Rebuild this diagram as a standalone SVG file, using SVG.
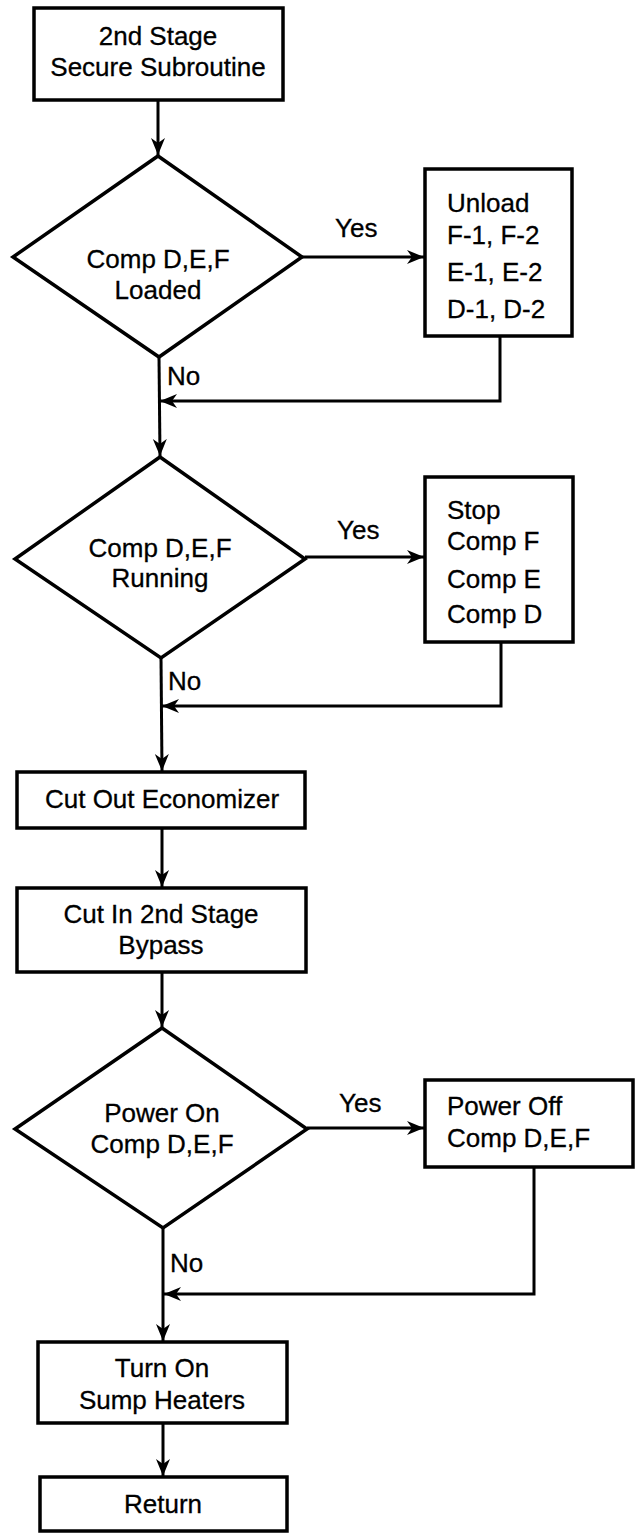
<svg xmlns="http://www.w3.org/2000/svg" width="637" height="1534" viewBox="0 0 637 1534">
<defs>
<marker id="ah" markerUnits="userSpaceOnUse" markerWidth="18" markerHeight="16" refX="17" refY="8" orient="auto">
<path d="M0,1 L17,8 L0,15 L5,8 Z" fill="#000"/>
</marker>
<style>
.box{fill:#fff;stroke:#000;stroke-width:3.5}
.t{font-family:"Liberation Sans",Arial,sans-serif;font-size:26px;fill:#000;stroke:#000;stroke-width:0.3}
.c{text-anchor:middle}
.ln{fill:none;stroke:#000;stroke-width:3}
</style>
</defs>
<rect width="637" height="1534" fill="#fff"/>
<g id="connectors">
<path class="ln" d="M158,100 L158,155" marker-end="url(#ah)"/>
<path class="ln" d="M302,257 L424,257" marker-end="url(#ah)"/>
<path class="ln" d="M500,336 L500,401 L160,401" marker-end="url(#ah)"/>
<path class="ln" d="M159,357 L160,456" marker-end="url(#ah)"/>
<path class="ln" d="M305,557 L424,557" marker-end="url(#ah)"/>
<path class="ln" d="M501,642 L501,706 L162,706" marker-end="url(#ah)"/>
<path class="ln" d="M161,658 L162,771" marker-end="url(#ah)"/>
<path class="ln" d="M162,828 L162,887" marker-end="url(#ah)"/>
<path class="ln" d="M162,972 L162,1027" marker-end="url(#ah)"/>
<path class="ln" d="M307,1128 L424,1128" marker-end="url(#ah)"/>
<path class="ln" d="M534,1167 L534,1294 L164,1294" marker-end="url(#ah)"/>
<path class="ln" d="M163,1228 L163,1341" marker-end="url(#ah)"/>
<path class="ln" d="M163,1423 L163,1476" marker-end="url(#ah)"/>
<text class="t" x="335" y="237">Yes</text>
<text class="t" x="337" y="539">Yes</text>
<text class="t" x="339" y="1112">Yes</text>
<text class="t" x="167" y="385">No</text>
<text class="t" x="168" y="690">No</text>
<text class="t" x="170" y="1272">No</text>
</g>
<g id="start">
<rect class="box" x="34" y="8" width="249" height="92"/>
<text class="t c" x="158" y="45">2nd Stage</text>
<text class="t c" x="158" y="76">Secure Subroutine</text>
</g>
<g id="dec-loaded">
<polygon class="box" points="158,156 302,257 159,357 13,257"/>
<text class="t c" x="158" y="268">Comp D,E,F</text>
<text class="t c" x="158" y="299">Loaded</text>
</g>
<g id="unload">
<rect class="box" x="425" y="169" width="147" height="167"/>
<text class="t" x="447" y="212">Unload</text>
<text class="t" x="447" y="244">F-1, F-2</text>
<text class="t" x="447" y="281">E-1, E-2</text>
<text class="t" x="447" y="318">D-1, D-2</text>
</g>
<g id="dec-running">
<polygon class="box" points="160,457 305,559 161,658 15,559"/>
<text class="t c" x="160" y="557">Comp D,E,F</text>
<text class="t c" x="160" y="587">Running</text>
</g>
<g id="stop">
<rect class="box" x="425" y="477" width="148" height="165"/>
<text class="t" x="447" y="519">Stop</text>
<text class="t" x="447" y="550">Comp F</text>
<text class="t" x="447" y="588">Comp E</text>
<text class="t" x="447" y="623">Comp D</text>
</g>
<g id="economizer">
<rect class="box" x="17" y="772" width="288" height="56"/>
<text class="t c" x="162" y="808">Cut Out Economizer</text>
</g>
<g id="bypass">
<rect class="box" x="17" y="888" width="289" height="84"/>
<text class="t c" x="161" y="923">Cut In 2nd Stage</text>
<text class="t c" x="161" y="954">Bypass</text>
</g>
<g id="dec-power">
<polygon class="box" points="162,1028 307,1129 163,1228 15,1129"/>
<text class="t c" x="162" y="1122">Power On</text>
<text class="t c" x="162" y="1153">Comp D,E,F</text>
</g>
<g id="poweroff">
<rect class="box" x="425" y="1080" width="208" height="87"/>
<text class="t" x="447" y="1115">Power Off</text>
<text class="t" x="447" y="1147">Comp D,E,F</text>
</g>
<g id="heaters">
<rect class="box" x="38" y="1342" width="249" height="81"/>
<text class="t c" x="162" y="1377">Turn On</text>
<text class="t c" x="162" y="1409">Sump Heaters</text>
</g>
<g id="return">
<rect class="box" x="40" y="1477" width="247" height="54"/>
<text class="t c" x="163" y="1513">Return</text>
</g>
</svg>
